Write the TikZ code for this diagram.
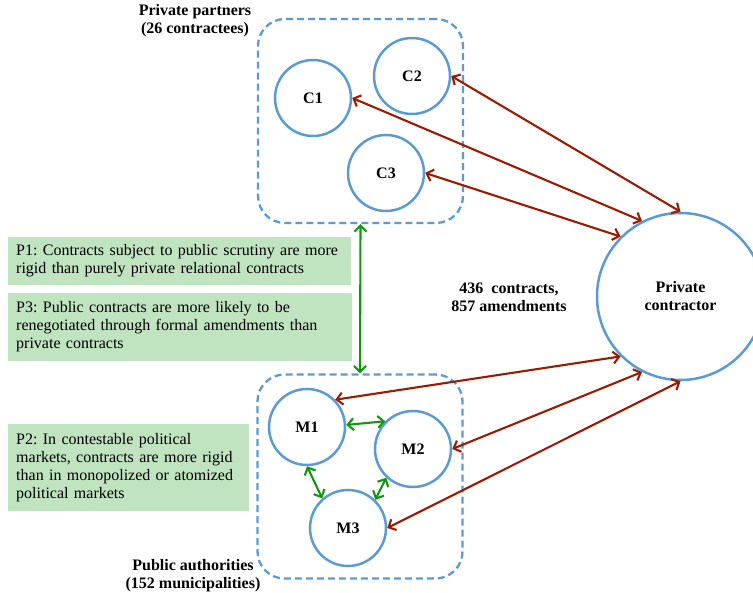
\documentclass[tikz,border=0pt]{standalone}
\usepackage{fontspec}
\setmainfont{Liberation Serif}
\usetikzlibrary{positioning,arrows.meta}
\definecolor{ringblue}{RGB}{91,155,213}
\definecolor{dealred}{RGB}{155,27,0}
\definecolor{linkgreen}{RGB}{20,150,20}
\definecolor{propgreen}{RGB}{192,227,192}

\begin{document}
\frenchspacing
\fontsize{16}{18}\selectfont
\begin{tikzpicture}[x=1pt,y=-1pt,
actor/.style={draw=ringblue, line width=2.5pt, circle, minimum size=76pt, inner sep=0pt, font=\bfseries},
group/.style={draw=ringblue, line width=2.3pt, dash pattern=on 7pt off 4pt, rounded corners=27pt, minimum width=205pt, minimum height=204pt},
prop/.style={fill=propgreen, anchor=west, align=left, inner xsep=8pt, inner ysep=0pt},
title/.style={font=\bfseries, align=center},
deal/.style={draw=dealred, line width=2.1pt, {Straight Barb[length=6pt,width=12pt]}-{Straight Barb[length=6pt,width=12pt]}},
link/.style={draw=linkgreen, line width=2.1pt, {Straight Barb[length=6pt,width=12pt]}-{Straight Barb[length=6pt,width=12pt]}}
]
\useasboundingbox (0,0) rectangle (753,593);

\node[group] (partners) at (360.5,121) {};
\node[group] (public) at (360,476.5) {};
\node[title] (ptitle) at (195,21) {Private partners\\(26 contractees)};
\node[title] (atitle) at (193,576) {Public authorities\\(152 municipalities)};

\node[actor] (c1) at (313,98) {C1};
\node[actor] (c2) at (412,76) {C2};
\node[actor] (c3) at (386,173) {C3};
\node[actor] (m1) at (307,427) {M1};
\node[actor] (m2) at (413,449) {M2};
\node[actor] (m3) at (348,528) {M3};
\node[actor, minimum size=167pt, align=center] (pc) at (680.5,296.5) {Private\\contractor};
\node[title] (tally) at (509,297.5) {436~~contracts,\\857 amendments};

\node[prop, text width=327pt, minimum height=48pt] (p1) at (8,261) {P1: Contracts subject to public scrutiny are more\\rigid than purely private relational contracts};
\node[prop, text width=328pt, minimum height=68pt] (p3) at (8,327) {P3: Public contracts are more likely to be\\renegotiated through formal amendments than\\private contracts};
\node[prop, text width=225pt, minimum height=87pt] (p2) at (8,467.5) {P2: In contestable political\\markets, contracts are more rigid\\than in monopolized or atomized\\political markets};

\draw[deal] (c2.east) -- (pc.90);
\draw[deal] (c1.east) -- (pc.117);
\draw[deal] (c3.east) -- (pc.135);
\draw[deal] (m1.44) -- (pc.225);
\draw[deal] (m2.east) -- (pc.243);
\draw[deal] (m3.east) -- (pc.270);

\draw[link] (partners.south) -- (public.north);
\draw[link] (m1.3) -- (m2.135);
\draw[link] (m1.270) -- (m3.131);
\draw[link] (m2.227) -- (m3.46);
\end{tikzpicture}
\end{document}
